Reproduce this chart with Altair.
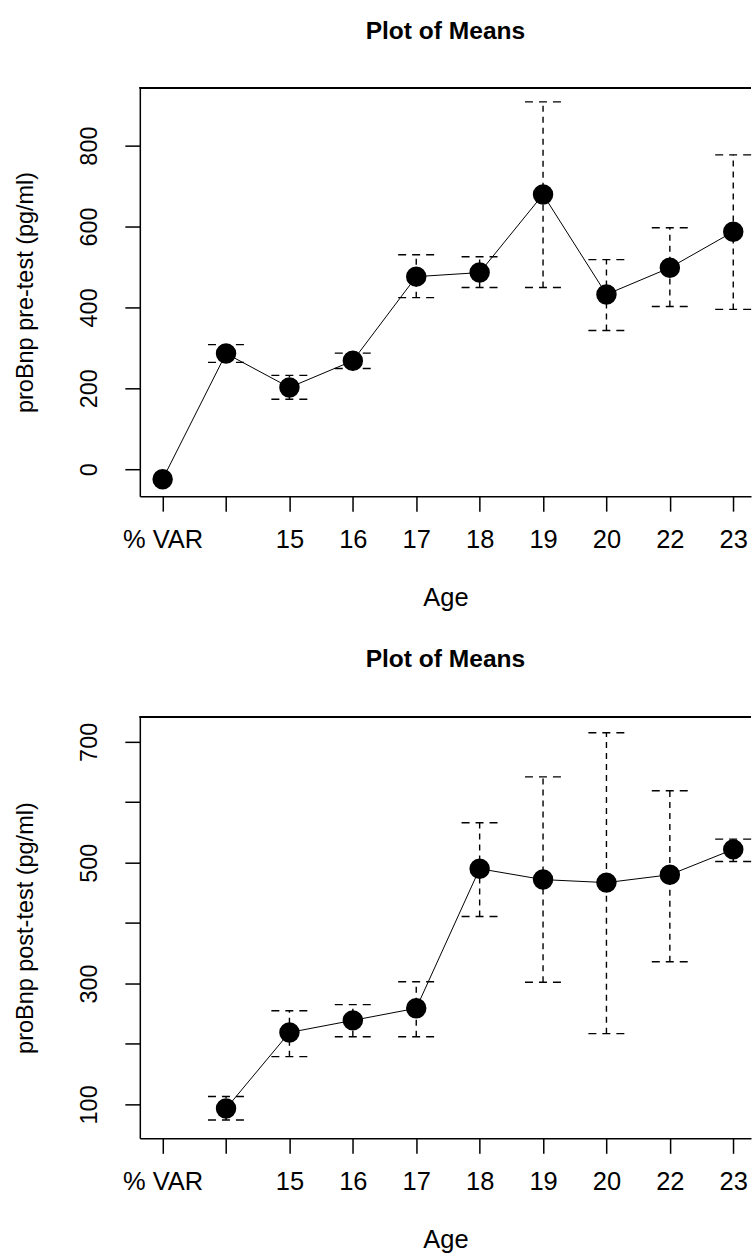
import altair as alt
import pandas as pd

# ---- data ----
age_labels = ["% VAR", "", "15", "16", "17", "18", "19", "20", "22", "23"]
positions = [1, 2, 3, 4, 5, 6, 7, 8, 9, 10]

pre_pos = [1, 2, 3, 4, 5, 6, 7, 8, 9, 10]
pre_mean = [-25, 286, 202, 268, 476, 486, 679, 432, 498, 587]
pre_low = [None, 264, 173, 249, 424, 449, 449, 343, 402, 395]
pre_high = [None, 308, 232, 287, 530, 525, 908, 518, 597, 777]

post_pos = [2, 3, 4, 5, 6, 7, 8, 9, 10]
post_mean = [93, 219, 239, 259, 490, 472, 467, 480, 522]
post_low = [74, 179, 212, 212, 411, 302, 217, 336, 502]
post_high = [113, 255, 265, 303, 566, 642, 715, 619, 539]

pre_ticks = [0, 200, 400, 600, 800]
post_ticks = [100, 200, 300, 400, 500, 600, 700]
post_labelled = [100, 300, 500, 700]

FONT = "Liberation Sans"
label_expr = "[" + ",".join("'" + s + "'" for s in age_labels) + "][datum.value - 1]"
CAP = 0.285
W = 612


def panel(pos, mean, low, high, ydomain, yticks, ytitle, height, title_offset, ylabel_expr=None):
    df = pd.DataFrame({"pos": pos, "mean": mean, "low": low, "high": high})
    xscale = alt.Scale(domain=[0.64, 10.28], nice=False, zero=False)
    x = alt.X("pos:Q", scale=xscale,
              axis=alt.Axis(values=positions, labelExpr=label_expr, title="Age",
                            labelPadding=16, titlePadding=33, labelFlush=False,
                            labelFontSize=25.5, titleFontSize=25.5))
    yaxis_kwargs = dict(values=yticks, title=ytitle, labelAngle=270, labelAlign="center",
                        labelBaseline="bottom", labelPadding=23, titlePadding=40)
    if ylabel_expr:
        yaxis_kwargs["labelExpr"] = ylabel_expr
    y = alt.Y("mean:Q", scale=alt.Scale(domain=ydomain, nice=False, zero=False),
              axis=alt.Axis(**yaxis_kwargs))
    base = alt.Chart(df)
    line = base.mark_line(color="black", strokeWidth=1).encode(x=x, y=y)
    err = base.transform_filter("isValid(datum.low)").mark_rule(
        color="black", strokeWidth=1.4, strokeDash=[6, 5]
    ).encode(x="pos:Q", y="low:Q", y2="high:Q")
    caps = base.transform_filter("isValid(datum.low)").transform_calculate(
        xl="datum.pos - %f" % CAP, xr="datum.pos + %f" % CAP
    )
    cap_hi = caps.mark_rule(color="black", strokeWidth=1.4, strokeDash=[8, 6]).encode(
        x="xl:Q", x2="xr:Q", y="high:Q")
    cap_lo = caps.mark_rule(color="black", strokeWidth=1.4, strokeDash=[8, 6]).encode(
        x="xl:Q", x2="xr:Q", y="low:Q")
    pts = base.mark_circle(color="black", opacity=1, size=420).encode(x="pos:Q", y="mean:Q")
    # top border of the plot box (right border lies outside the picture)
    top_border = base.mark_rule(color="black", strokeWidth=1.5).encode(
        x=alt.value(0), x2=alt.value(W), y=alt.value(0))
    return alt.layer(line, err, cap_hi, cap_lo, pts, top_border).properties(
        width=W, height=height, title=alt.TitleParams("Plot of Means", offset=title_offset))


top = panel(pre_pos, pre_mean, pre_low, pre_high, [-66.7, 943], pre_ticks,
            "proBnp pre-test (pg/ml)", 409, 42)
post_expr = "indexof([" + ",".join(str(v) for v in post_labelled) + "], datum.value) >= 0 ? datum.label : ''"
bottom = panel(post_pos, post_mean, post_low, post_high, [43.8, 741.3], post_ticks,
               "proBnp post-test (pg/ml)", 422, 44, ylabel_expr=post_expr)

chart = alt.vconcat(top, bottom, spacing=35).properties(
    padding={"left": 14, "top": 18, "right": 0, "bottom": 0}
).configure_view(
    strokeWidth=0
).configure_axis(
    labelFont=FONT, labelFontSize=23.5, labelColor="black",
    titleFont=FONT, titleFontSize=23.5, titleFontWeight="normal", titleColor="black",
    tickColor="black", tickWidth=1.5, tickSize=15, grid=False,
    domain=True, domainColor="black", domainWidth=1.5
).configure_title(
    font=FONT, fontSize=24.6, fontWeight="bold", color="black", anchor="middle"
)

chart.save("out.html", embed_options={"renderer": "svg", "actions": False})
